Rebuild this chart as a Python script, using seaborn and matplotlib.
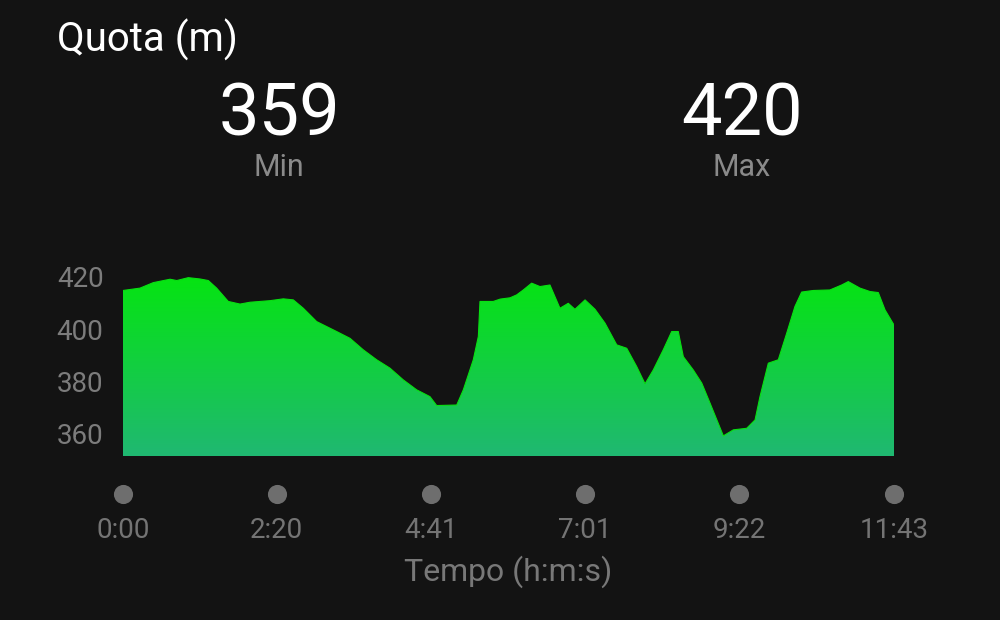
import numpy as np
import pandas as pd
import matplotlib
matplotlib.use("Agg")
import matplotlib.pyplot as plt
import matplotlib.transforms as mtransforms
from matplotlib.colors import LinearSegmentedColormap
import seaborn as sns

# tempo (secondi) e quota (m)
tempo = [0, 15.5, 27.6, 42.9, 49, 59.5, 70.2, 77.8, 85.4, 96, 106.7, 115.8,
         134, 146.2, 155.3, 164.4, 176.6, 194.8, 207, 219.1, 231.3, 243.4,
         255.6, 267.8, 279.9, 286, 304.3, 310.3, 319.4, 324, 325.5, 337.6,
         343.9, 352.9, 358.9, 365, 372.6, 380.2, 389.3, 398.4, 406, 412.1,
         421.3, 430.4, 439.5, 450.2, 459.3, 468.4, 476, 483.5, 492.6, 500.3,
         506.3, 510.9, 520, 527.7, 535.2, 547.4, 556.5, 568.7, 576.3, 580.8,
         588.4, 597.5, 605.2, 612.7, 618.8, 629.4, 644.6, 655.3, 661.3, 672,
         681.1, 688.7, 694.8, 703]
quota = [414.8, 415.7, 417.8, 419.1, 418.6, 419.7, 419.2, 418.6, 415.7, 410.6,
         409.6, 410.3, 410.9, 411.6, 411.2, 408, 402.9, 399.1, 396.5, 392.1,
         388.3, 385.1, 380.6, 376.8, 374.2, 370.8, 371, 376.8, 388.3, 397.2,
         410.6, 410.6, 411.5, 412, 413.1, 415, 417.6, 416.3, 416.9, 408,
         409.9, 407.6, 411.2, 407.6, 402.3, 394, 392.7, 385.7, 379.1, 384.4,
         392.1, 399.1, 399.1, 389.5, 384.4, 379.4, 371.8, 359.2, 361.5, 362.1,
         365.3, 374.2, 387, 388.3, 398.5, 408.7, 414.2, 414.8, 415, 416.9,
         418.2, 415.7, 414.4, 414, 407.4, 401.6]

tick_sec = [0, 140, 281, 421, 562, 703]
tick_lab = ["0:00", "2:20", "4:41", "7:01", "9:22", "11:43"]
y_ticks = [360, 380, 400, 420]
q_min, q_max = 359, 420

bg = "#131313"
sns.set_theme(style="dark", rc={"axes.facecolor": bg, "figure.facecolor": bg,
                                "savefig.facecolor": bg})
plt.rcParams["font.family"] = ["Roboto", "DejaVu Sans"]

fig = plt.figure(figsize=(10, 6.2), dpi=100)
y_lo, y_hi = 351.5, 425
ax_h = (y_hi - y_lo) * 2.615 / 620
ax = fig.add_axes([0.123, 0.2645, 0.771, ax_h])

df = pd.DataFrame({"tempo": tempo, "quota": quota})
sns.lineplot(data=df, x="tempo", y="quota", ax=ax, color="#08e012", lw=0.8)

# riempimento con gradiente verde
fill = ax.fill_between(df["tempo"], df["quota"], y_lo, color="none", lw=0)
cmap = LinearSegmentedColormap.from_list("verde", ["#20b872", "#12cf40", "#05e510"])
grad = np.linspace(0, 1, 256).reshape(-1, 1)
img = ax.imshow(grad, cmap=cmap, aspect="auto", origin="lower",
                extent=[0, 703, y_lo, 421], zorder=1)
img.set_clip_path(fill.get_paths()[0], transform=ax.transData)

ax.set_xlim(0, 703)
ax.set_ylim(y_lo, y_hi)
for s in ax.spines.values():
    s.set_visible(False)
ax.grid(False)
ax.set_xlabel("")
ax.set_ylabel("")

ax.set_yticks(y_ticks)
ax.set_yticklabels([str(v) for v in y_ticks])
ax.tick_params(axis="y", length=0, pad=14, labelsize=20, labelcolor="#7c7c7c")

ax.set_xticks(tick_sec)
ax.set_xticklabels(tick_lab)
ax.tick_params(axis="x", length=0, pad=44, labelsize=20, labelcolor="#747474")

# pallini grigi sotto il grafico
trans = mtransforms.blended_transform_factory(ax.transData, ax.transAxes)
ax.scatter(tick_sec, [-38 / (ax_h * 620)] * len(tick_sec), s=190, color="#6e6e6e",
           transform=trans, clip_on=False, zorder=3, linewidths=0)

fig.text(0.508, 1 - 572 / 620, "Tempo (h:m:s)", ha="center", va="center",
         fontsize=23, color="#787878")

fig.text(0.057, 1 - 40 / 620, "Quota (m)", ha="left", va="center",
         fontsize=29, color="white")
fig.text(0.279, 1 - 116 / 620, str(q_min), ha="center", va="center",
         fontsize=52, color="white")
fig.text(0.279, 1 - 168 / 620, "Min", ha="center", va="center",
         fontsize=22, color="#8a8a8a")
fig.text(0.742, 1 - 116 / 620, str(q_max), ha="center", va="center",
         fontsize=52, color="white")
fig.text(0.742, 1 - 168 / 620, "Max", ha="center", va="center",
         fontsize=22, color="#8a8a8a")

fig.savefig("out.png", dpi=100)
